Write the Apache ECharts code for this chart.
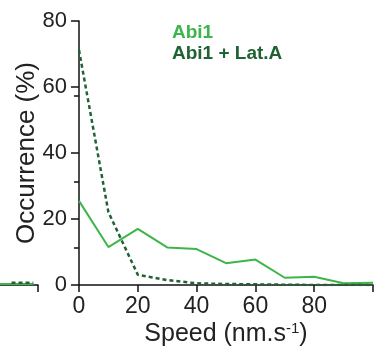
<!DOCTYPE html>
<html>
<head>
<meta charset="utf-8">
<script src="https://cdn.jsdelivr.net/npm/echarts@6/dist/echarts.min.js"></script>
<style>
html,body{margin:0;padding:0;background:#fff;}
#c{width:386px;height:353px;}
</style>
</head>
<body>
<div id="c"></div>
<script>
// Data
var speeds = [0, 10, 20, 30, 40, 50, 60, 70, 80, 90, 100];
var abi1 = [25.5, 11.5, 17.0, 11.4, 10.9, 6.6, 7.7, 2.2, 2.5, 0.5, 0.7];
var abi1LatA = [71.2, 22.1, 3.1, 1.5, 0.5, 0.3, 0.2, 0.1, 0.0, 0.0, 0.0];
var seriesNames = ['Abi1', 'Abi1 + Lat.A'];
var xTickLabels = [0, 20, 40, 60, 80];
var yTickLabels = [0, 20, 40, 60, 80];
var yMinorTicks = [11.4, 31.3, 57.3];
// clipped neighbouring panel (left edge fragment)
var fragSpeeds = [87, 98.4];
var fragAbi1 = [0.3, 0.3];
var fragLatSpeeds = [91, 98.4];
var fragLatA = [0.7, 0.7];

var green = '#3db54a';
var dark = '#1f6334';
var font = 'Liberation Sans, Arial, sans-serif';

function pairs(xs, ys) { return xs.map(function (x, i) { return [x, ys[i]]; }); }

var chart = echarts.init(document.getElementById('c'), null, {renderer: 'canvas'});
chart.setOption({
  animation: false,
  backgroundColor: '#fff',
  legend: {
    orient: 'vertical',
    left: 162, top: 18,
    icon: 'none',
    itemWidth: 0, itemHeight: 14, itemGap: 2,
    data: [
      {name: seriesNames[0], textStyle: {color: green}},
      {name: seriesNames[1], textStyle: {color: dark}}
    ],
    textStyle: {fontFamily: font, fontWeight: 'bold', fontSize: 19}
  },
  grid: [
    {left: 79, top: 21, width: 294, height: 264, containLabel: false, outerBoundsMode: 'none'},
    {left: -256, top: 21, width: 294, height: 264, containLabel: false, outerBoundsMode: 'none'}
  ],
  xAxis: [
    {
      type: 'value', gridIndex: 0, min: 0, max: 100, interval: 20,
      name: '{a|Speed (nm.s}{s|-1}{a|)}',
      nameLocation: 'middle', nameGap: 36, nameMoveOverlap: false,
      nameTextStyle: {
        rich: {
          a: {fontFamily: font, fontSize: 25, color: '#222'},
          s: {fontFamily: font, fontSize: 15, color: '#222', padding: [0, 0, 11, 0]}
        }
      },
      axisLine: {lineStyle: {color: '#111', width: 1.5}},
      axisTick: {show: true, length: 7, inside: false, lineStyle: {color: '#111', width: 1.5}},
      axisLabel: {customValues: xTickLabels, fontFamily: font, fontSize: 23, color: '#222', margin: 10},
      splitLine: {show: false}
    },
    {
      type: 'value', gridIndex: 1, min: 0, max: 100, interval: 20,
      axisLine: {lineStyle: {color: '#111', width: 1.5}},
      axisTick: {show: true, length: 7, lineStyle: {color: '#111', width: 1.5}},
      axisLabel: {show: false},
      splitLine: {show: false}
    }
  ],
  yAxis: [
    {
      type: 'value', gridIndex: 0, min: 0, max: 80, interval: 20,
      name: 'Occurrence (%)',
      nameLocation: 'middle', nameGap: 39, nameRotate: 90, nameMoveOverlap: false,
      nameTextStyle: {fontFamily: font, fontSize: 26, color: '#222'},
      axisLine: {show: true, lineStyle: {color: '#111', width: 1.5}},
      axisTick: {show: true, length: 8, lineStyle: {color: '#111', width: 1.5}},
      axisLabel: {customValues: yTickLabels, fontFamily: font, fontSize: 22, color: '#222', margin: 12},
      splitLine: {show: false}
    },
    {
      type: 'value', gridIndex: 0, min: 0, max: 80, position: 'left',
      axisLine: {show: false},
      axisTick: {show: true, length: 5, customValues: yMinorTicks, lineStyle: {color: '#111', width: 1.5}},
      axisLabel: {show: false},
      splitLine: {show: false}
    },
    {
      type: 'value', gridIndex: 1, min: 0, max: 80, show: false,
      splitLine: {show: false}
    }
  ],
  series: [
    {
      name: seriesNames[0], type: 'line', xAxisIndex: 0, yAxisIndex: 0,
      data: pairs(speeds, abi1), symbol: 'none', z: 3,
      lineStyle: {color: green, width: 2}, itemStyle: {color: green}
    },
    {
      name: seriesNames[1], type: 'line', xAxisIndex: 0, yAxisIndex: 0,
      data: pairs(speeds, abi1LatA), symbol: 'none', z: 4,
      lineStyle: {color: dark, width: 2.5, type: [4, 3]}, itemStyle: {color: dark}
    },
    {
      name: 'frag1', type: 'line', xAxisIndex: 1, yAxisIndex: 2,
      data: pairs(fragSpeeds, fragAbi1), symbol: 'none',
      lineStyle: {color: green, width: 2}
    },
    {
      name: 'frag2', type: 'line', xAxisIndex: 1, yAxisIndex: 2,
      data: pairs(fragLatSpeeds, fragLatA), symbol: 'none',
      lineStyle: {color: dark, width: 2.5, type: [4, 3]}
    }
  ]
});
</script>
</body>
</html>
